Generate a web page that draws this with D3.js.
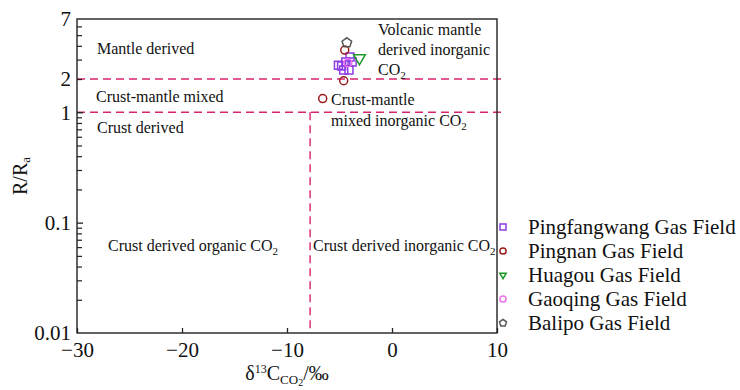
<!DOCTYPE html>
<html>
<head>
<meta charset="utf-8">
<script src="https://cdn.jsdelivr.net/npm/d3@7"></script>
<style>
  html, body { margin: 0; padding: 0; background: #fff; }
  svg { display: block; font-family: "Liberation Serif", "Times New Roman", serif; }
</style>
</head>
<body>
<svg id="chart" width="740" height="390"></svg>
<script>
// δ13C of CO2 (‰) versus helium isotope ratio R/Ra, per gas field
const fields = ["Pingfangwang Gas Field", "Pingnan Gas Field", "Huagou Gas Field", "Gaoqing Gas Field", "Balipo Gas Field"];
const pingfangwangD13C = [-5.1, -4.8, -4.4, -4.0, -4.1, -4.6, -3.8];
const pingfangwangRRa  = [2.67, 2.62, 2.85, 3.16, 2.41, 2.41, 2.85];
const pingnanD13C = [-4.5, -4.6, -6.6];
const pingnanRRa  = [3.66, 1.93, 1.33];
const huagouD13C = [-3.1];
const huagouRRa  = [3.1];
const gaoqingD13C = [-4.2];
const gaoqingRRa  = [2.81];
const balipoD13C = [-4.3];
const balipoRRa  = [4.26];

const xTicks = [-30, -20, -10, 0, 10];
const yLabelValues = [0.01, 0.1, 1, 2, 7];
const boundaryRRa = [2, 1];      // mantle / crust-mantle / crust limits
const boundaryD13C = -7.8;       // organic vs inorganic CO2 limit

const colors = ["#8b3be6", "#9a1c1c", "#1e9a2a", "#f070f0", "#555555"];

const svg = d3.select("#chart");
const x = d3.scaleLinear().domain([-30, 10]).range([77, 497]);
const y = d3.scaleLog().domain([0.01, 7]).range([333, 19]);

const fmt = v => (v < 0 ? "\u2212" + Math.abs(v) : String(v));

// pentagon symbol
const symbolPentagon = {
  draw(ctx, size) {
    const r = Math.sqrt(size / 2.378);
    for (let i = 0; i < 5; i++) {
      const a = -Math.PI / 2 + i * 2 * Math.PI / 5;
      const px = r * Math.cos(a), py = r * Math.sin(a);
      i ? ctx.lineTo(px, py) : ctx.moveTo(px, py);
    }
    ctx.closePath();
  }
};
const shapes = [d3.symbolSquare, d3.symbolCircle, d3.symbolTriangle, d3.symbolCircle, symbolPentagon];
const rotations = [0, 0, 180, 0, 0];
const plotSizes = [64, 50, 60, 50, 60];
const legendSizes = [36, 30, 18, 30, 32];

// dashed boundary lines
const dash = "8,5";
const boundaryColor = "#d6246e";
svg.append("g").selectAll("line.h").data(boundaryRRa).join("line")
  .attr("x1", x(-30)).attr("x2", x(10) + 6)
  .attr("y1", d => y(d)).attr("y2", d => y(d))
  .attr("stroke", boundaryColor).attr("stroke-width", 1.4).attr("stroke-dasharray", dash);
svg.append("line")
  .attr("x1", x(boundaryD13C)).attr("x2", x(boundaryD13C))
  .attr("y1", y(1)).attr("y2", y(0.01))
  .attr("stroke", boundaryColor).attr("stroke-width", 1.4).attr("stroke-dasharray", dash);

// frame
svg.append("rect")
  .attr("x", x(-30)).attr("y", y(7))
  .attr("width", x(10) - x(-30)).attr("height", y(0.01) - y(7))
  .attr("fill", "none").attr("stroke", "#222").attr("stroke-width", 1.4);

// x axis
const xAxis = svg.append("g").attr("transform", `translate(0,${y(0.01)})`)
  .call(d3.axisBottom(x).tickValues(xTicks).tickSize(-5).tickPadding(9).tickFormat(fmt));
xAxis.select(".domain").remove();
xAxis.selectAll("line").attr("stroke", "#222").attr("stroke-width", 1.3);
xAxis.selectAll("text").attr("font-size", 21).attr("fill", "#111").attr("font-family", "Liberation Serif");

// y axis minor ticks
const minorVals = [];
[0.01, 0.1, 1].forEach(d => { for (let k = 2; k <= 9; k++) { const v = d * k; if (v < 7) minorVals.push(v); } });
const yMinor = svg.append("g").attr("transform", `translate(${x(-30)},0)`)
  .call(d3.axisLeft(y).tickValues(minorVals).tickSize(-5).tickFormat(""));
yMinor.select(".domain").remove();
yMinor.selectAll("line").attr("stroke", "#222").attr("stroke-width", 1.2);

// y axis labels and major ticks
const yMajor = svg.append("g").attr("transform", `translate(${x(-30)},0)`)
  .call(d3.axisLeft(y).tickValues(yLabelValues).tickSize(-6).tickPadding(6).tickFormat(d => String(d)));
yMajor.select(".domain").remove();
yMajor.selectAll("line").attr("stroke", "#222").attr("stroke-width", 1.3)
  .attr("opacity", d => (d === 0.1 || d === 1) ? 1 : 0);
yMajor.selectAll("text").attr("font-size", 21).attr("fill", "#111").attr("font-family", "Liberation Serif");

// axis titles
const yTitle = svg.append("text")
  .attr("transform", `translate(27,${(y(7) + y(0.01)) / 2}) rotate(-90)`)
  .attr("text-anchor", "middle").attr("font-size", 20).attr("fill", "#111");
yTitle.append("tspan").text("R/R");
yTitle.append("tspan").attr("font-size", 13).attr("baseline-shift", "-25%").text("a");

const xTitle = svg.append("text")
  .attr("x", 287).attr("y", 380)
  .attr("text-anchor", "middle").attr("font-size", 20).attr("fill", "#111");
xTitle.append("tspan").text("δ");
xTitle.append("tspan").attr("font-size", 12).attr("dy", -7).text("13");
xTitle.append("tspan").attr("dy", 7).text("C");
xTitle.append("tspan").attr("font-size", 13).attr("dy", 4).text("CO");
xTitle.append("tspan").attr("font-size", 10).attr("dy", 2).text("2");
xTitle.append("tspan").attr("dy", -6).text("/‰");

// region labels
const regionFont = 16;
function label(lines, px, py, lh) {
  lines.forEach((parts, i) => {
    const t = svg.append("text").attr("x", px).attr("y", py + i * lh)
      .attr("font-size", regionFont).attr("fill", "#111");
    parts.forEach(p => {
      if (p.sub) t.append("tspan").attr("font-size", 11).attr("dy", 4).text(p.t);
      else t.append("tspan").text(p.t);
    });
  });
}
label([[{t: "Mantle derived"}]], 97, 54, 0);
label([[{t: "Crust-mantle mixed"}]], 96, 102, 0);
label([[{t: "Crust derived"}]], 97, 133, 0);
label([[{t: "Crust derived organic CO"}, {t: "2", sub: true}]], 108, 251, 0);
label([[{t: "Crust derived inorganic CO"}, {t: "2", sub: true}]], 313, 251, 0);
label([[{t: "Crust-mantle"}], [{t: "mixed inorganic CO"}, {t: "2", sub: true}]], 331, 105, 21);
label([[{t: "Volcanic mantle"}], [{t: "derived inorganic"}], [{t: "CO"}, {t: "2", sub: true}]], 378, 35, 20);

// data points
const seriesX = [pingfangwangD13C, pingnanD13C, huagouD13C, gaoqingD13C, balipoD13C];
const seriesY = [pingfangwangRRa, pingnanRRa, huagouRRa, gaoqingRRa, balipoRRa];
fields.forEach((name, i) => {
  const pts = seriesX[i].map((v, j) => [v, seriesY[i][j]]);
  svg.append("g").selectAll("path").data(pts).join("path")
    .attr("d", d3.symbol().type(shapes[i]).size(plotSizes[i]))
    .attr("transform", d => `translate(${x(d[0])},${y(d[1])}) rotate(${rotations[i]})`)
    .attr("fill", "none").attr("stroke", colors[i]).attr("stroke-width", 1.5);
});

// legend
const legend = svg.append("g").attr("transform", "translate(503,227)");
fields.forEach((name, i) => {
  const row = legend.append("g").attr("transform", `translate(0,${i * 24})`);
  row.append("path")
    .attr("d", d3.symbol().type(shapes[i]).size(legendSizes[i]))
    .attr("transform", `rotate(${rotations[i]})`)
    .attr("fill", "none").attr("stroke", colors[i]).attr("stroke-width", 1.5);
  row.append("text").attr("x", 25).attr("y", 7)
    .attr("font-size", 21).attr("fill", "#111").text(name);
});
</script>
</body>
</html>
